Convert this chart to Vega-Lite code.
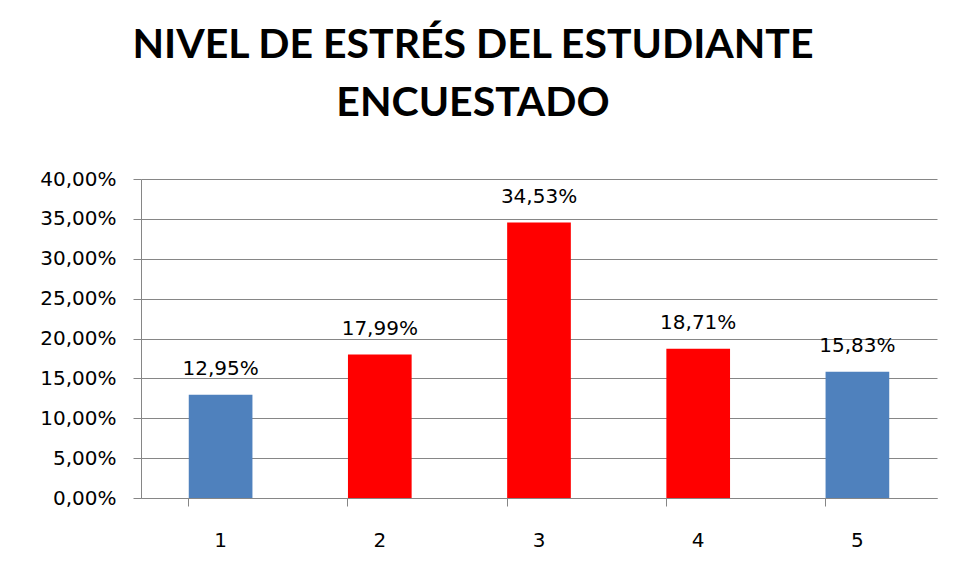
{
  "$schema": "https://vega.github.io/schema/vega-lite/v6.json",
  "width": 796,
  "height": 319,
  "autosize": {"type": "none"},
  "padding": {"left": 141, "top": 179, "right": 18, "bottom": 80},
  "background": "white",
  "config": {
    "locale": {"number": {"decimal": ",", "thousands": ".", "grouping": [3], "currency": ["", " €"]}},
    "font": "DejaVu Sans",
    "view": {"stroke": null}
  },
  "title": {
    "text": ["NIVEL DE ESTRÉS DEL ESTUDIANTE", "ENCUESTADO"],
    "font": "Lato",
    "fontSize": 41,
    "fontWeight": "bold",
    "color": "black",
    "anchor": "middle",
    "lineHeight": 58,
    "offset": 44,
    "dx": -66
  },
  "data": {
    "values": [
      {"nivel": "1", "porcentaje": 0.1295},
      {"nivel": "2", "porcentaje": 0.1799},
      {"nivel": "3", "porcentaje": 0.3453},
      {"nivel": "4", "porcentaje": 0.1871},
      {"nivel": "5", "porcentaje": 0.1583}
    ]
  },
  "encoding": {
    "x": {
      "field": "nivel",
      "type": "ordinal",
      "scale": {"paddingInner": 0.6, "paddingOuter": 0.3},
      "axis": {
        "title": null,
        "labelAngle": 0,
        "labelFont": "DejaVu Sans",
        "labelFontSize": 20,
        "labelColor": "black",
        "labelPadding": 24,
        "domainColor": "#868686",
        "tickColor": "#868686",
        "tickSize": 8,
        "bandPosition": 0,
        "grid": false
      }
    },
    "y": {
      "field": "porcentaje",
      "type": "quantitative",
      "scale": {"domain": [0, 0.4], "nice": false},
      "axis": {
        "title": null,
        "format": ".2%",
        "values": [0, 0.05, 0.1, 0.15, 0.2, 0.25, 0.3, 0.35, 0.4],
        "labelFont": "DejaVu Sans",
        "labelFontSize": 20,
        "labelColor": "black",
        "labelPadding": 17,
        "domainColor": "#868686",
        "tickColor": "#868686",
        "tickSize": 8,
        "gridColor": "#868686",
        "gridOpacity": 1
      }
    }
  },
  "layer": [
    {
      "mark": {"type": "bar"},
      "encoding": {
        "color": {
          "condition": {"test": "datum.nivel == '1' || datum.nivel == '5'", "value": "#4F81BD"},
          "value": "#FF0000"
        }
      }
    },
    {
      "mark": {"type": "text", "baseline": "alphabetic", "dy": -20, "font": "DejaVu Sans", "fontSize": 20, "color": "black"},
      "encoding": {
        "text": {"field": "porcentaje", "type": "quantitative", "format": ".2%"}
      }
    }
  ]
}
